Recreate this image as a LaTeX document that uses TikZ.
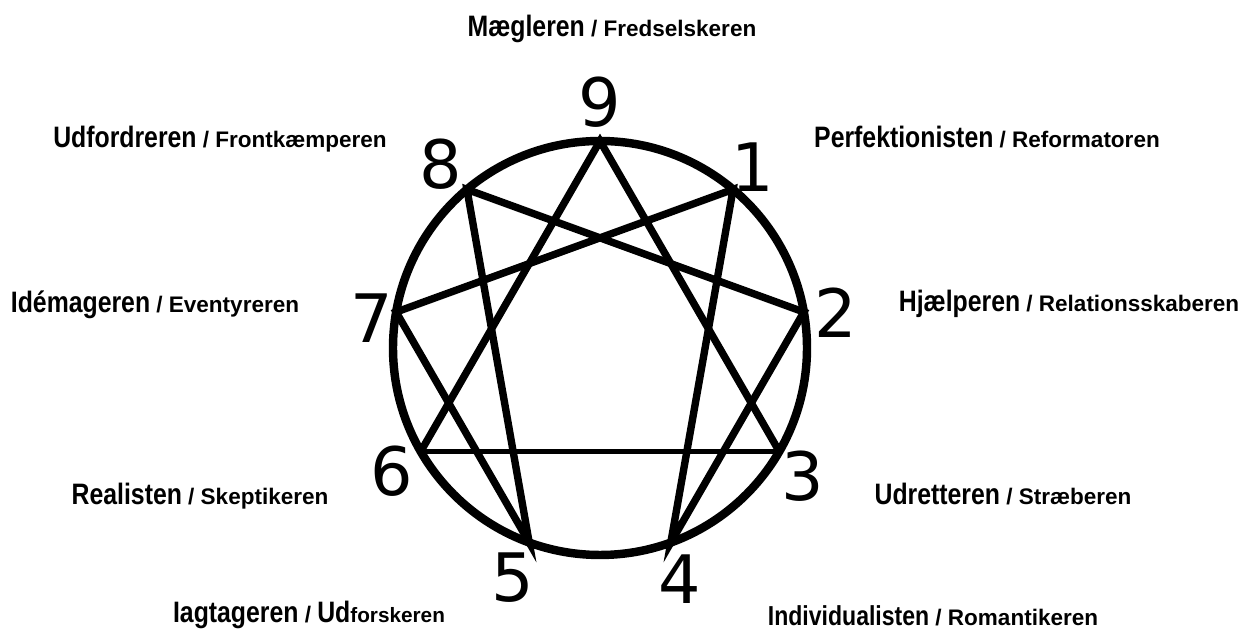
\documentclass[tikz,border=0pt]{standalone}
\usepackage{fontspec}
\setmainfont{Liberation Sans}
\newfontfamily\headword{Liberation Sans}[FakeStretch=0.84]
\newfontfamily\digitfont{DejaVu Sans}
\usepackage{tikz}
\usetikzlibrary{calc}
\newcommand{\smallpart}[1]{{\rmfamily\bfseries\fontsize{6.4}{8}\selectfont #1}}

\begin{document}
\begin{tikzpicture}[x=0.01cm, y=0.01cm,
  ring/.style={line width=2.4pt},
  chord/.style={line width=2.1pt, line join=miter},
  digit/.style={font=\digitfont\fontsize{19}{20}\selectfont, inner sep=0},
  typelabel/.style={font=\headword\bfseries\fontsize{8.4}{10}\selectfont, inner sep=0, anchor=base}]
\useasboundingbox (0,0) rectangle (1242,634);
\coordinate (c) at (600,286);
\foreach \n/\a in {9/90,1/50,2/10,3/-30,4/-70,5/-110,6/-150,7/170,8/130}
  \coordinate (p\n) at ($(c)+(\a:207)$);
% circle and lines
\draw[ring] (c) circle [radius=207];
\draw[chord] (p6) -- (p9) -- (p3);
\draw[chord, line width=1.6pt] (p3) -- (p6);
\draw[chord] (p1) -- (p4) -- (p2) -- (p8) -- (p5) -- (p7) -- cycle;
% point numbers
\node[digit] (n9) at (600,532) {9};
\node[digit] (n1) at (753,467) {1};
\node[digit] (n2) at (836,321) {2};
\node[digit] (n3) at (803,158) {3};
\node[digit] (n4) at (680,55) {4};
\node[digit] (n5) at (513,56) {5};
\node[digit] (n6) at (392,163) {6};
\node[digit] (n7) at (372,316) {7};
\node[digit] (n8) at (441,470) {8};
% type names
\node[typelabel] (l9) at (612,597) {Mægleren\smallpart{ / Fredselskeren}};
\node[typelabel] (l8) at (220,486) {Udfordreren\smallpart{ / Frontkæmperen}};
\node[typelabel] (l1) at (987,486) {Perfektionisten\smallpart{ / Reformatoren}};
\node[typelabel] (l7) at (155,321) {Idémageren\smallpart{ / Eventyreren}};
\node[typelabel] (l2) at (1069,322) {Hjælperen\smallpart{ / Relationsskaberen}};
\node[typelabel] (l6) at (200,129) {Realisten\smallpart{ / Skeptikeren}};
\node[typelabel] (l3) at (1003,129) {Udretteren\smallpart{ / Stræberen}};
\node[typelabel] (l5) at (309,11) {Iagtageren\smallpart{ / }Ud{\rmfamily\bfseries\fontsize{5.9}{7}\selectfont forskeren}};
\node[typelabel] (l4) at (933,8) {{\fontsize{7.8}{10}\selectfont Individualisten}\smallpart{ / Romantikeren}};
\end{tikzpicture}
\end{document}
